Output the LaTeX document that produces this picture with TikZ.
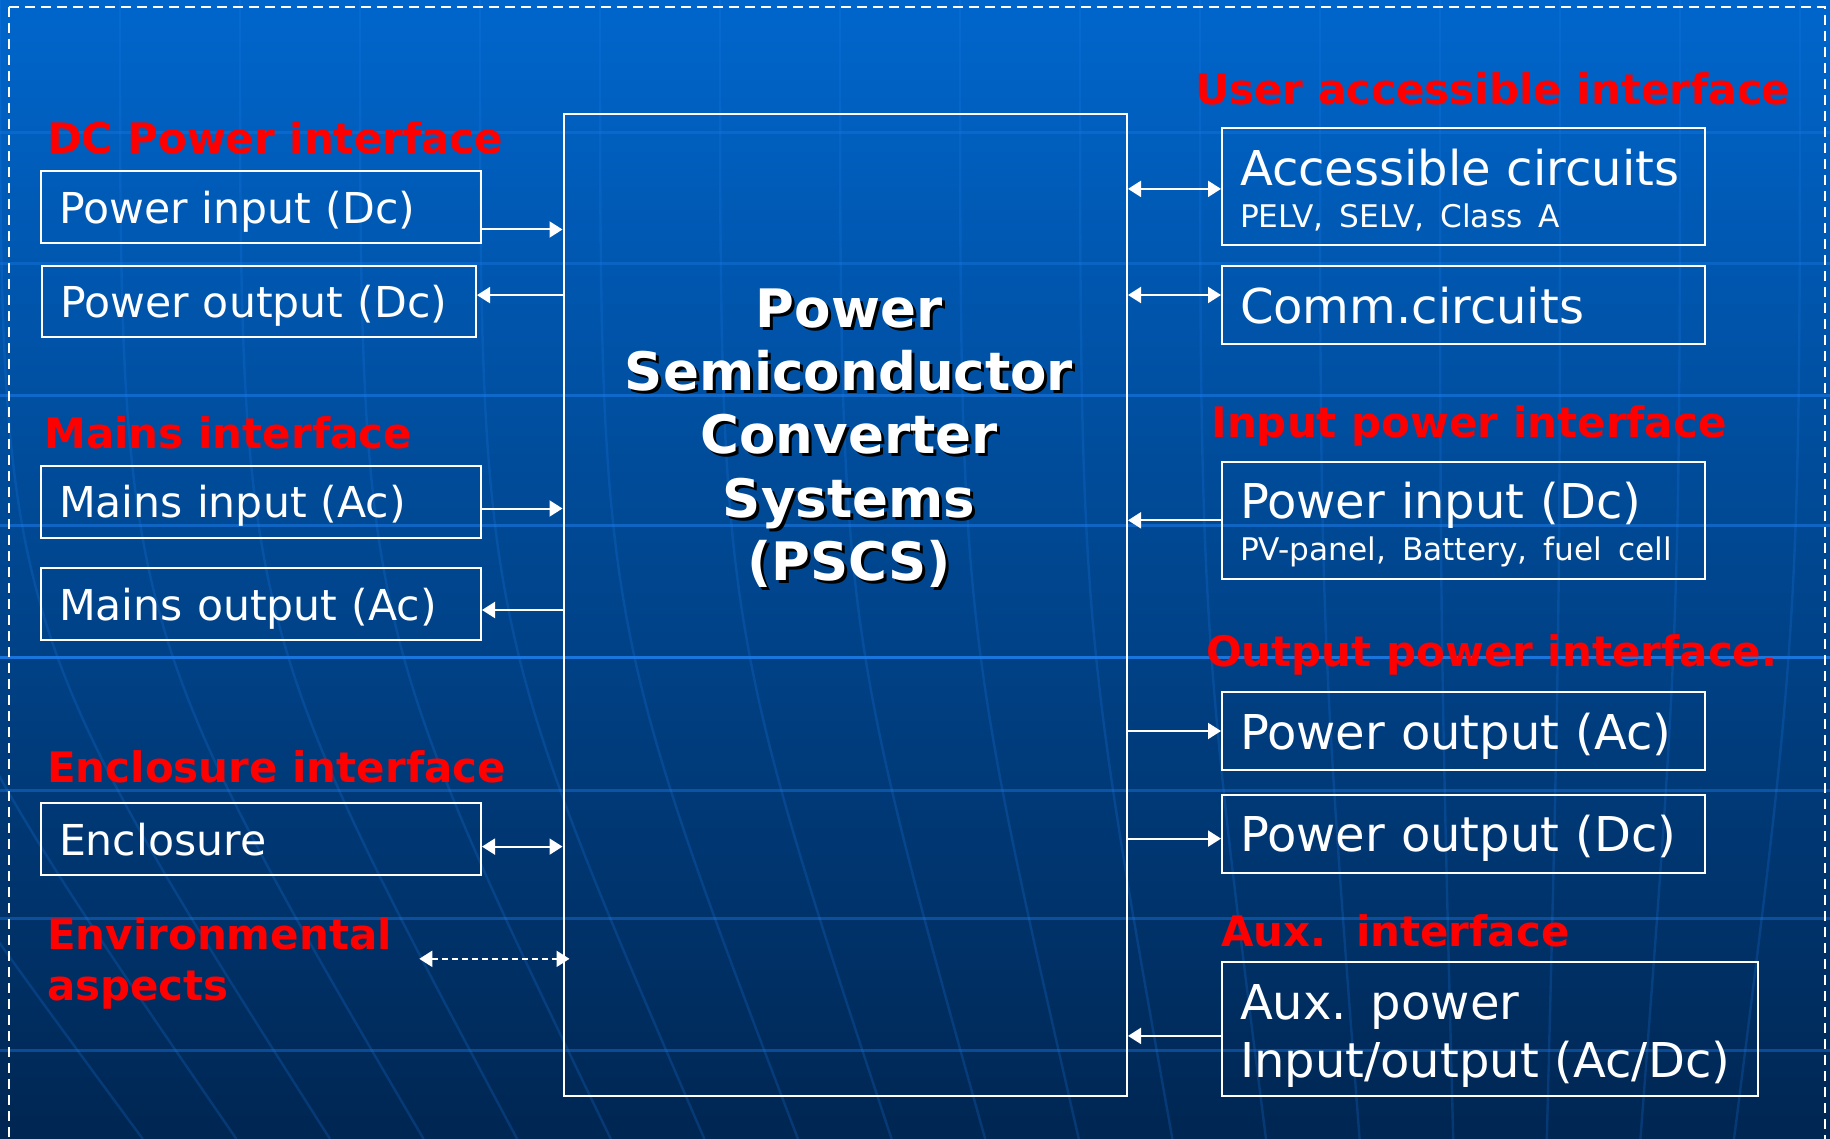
\documentclass[tikz,border=0pt]{standalone}
\usepackage{fontspec}
\setmainfont{DejaVu Sans}
\usetikzlibrary{arrows.meta}
\definecolor{bgtop}{RGB}{0,102,204}
\definecolor{bgmid}{RGB}{0,70,148}
\definecolor{bgbot}{RGB}{0,38,82}
\definecolor{gridblue}{RGB}{30,125,235}
\newcommand{\subtxtfont}{\fontsize{15.6}{20}\selectfont}

\begin{document}
\begin{tikzpicture}[x=0.5pt,y=-0.5pt,every node/.style={text=white},
    box/.style={draw=white, line width=1pt, anchor=north west, inner xsep=9pt, inner ysep=0pt, align=left, text depth=0pt},
    lbox/.style={box, text width=202pt, minimum height=36pt, font=\fontsize{21.3}{25}\selectfont},
    rbox/.style={box, text width=223.5pt, font=\fontsize{24}{29.3}\selectfont},
    hdr/.style={text=red, anchor=base west, inner sep=0pt, align=left, font=\fontsize{21}{25.5}\selectfont\bfseries},
    title/.style={anchor=north, inner sep=0pt, align=center, font=\fontsize{26.5}{31.7}\selectfont\bfseries},
    arr/.style={white, line width=1pt, -{Triangle[length=6.5pt,width=8pt]}},
    darr/.style={white, line width=1pt, {Triangle[length=6.5pt,width=8pt]}-{Triangle[length=6.5pt,width=8pt]}}]
    \useasboundingbox (0,0) rectangle (1830,1139);
    \clip (0,0) rectangle (1830,1139);
    % background with globe grid
    \shade[top color=bgtop, middle color=bgmid, bottom color=bgbot] (0,0) rectangle (1830,1139);
    \foreach \gy/\op in {133/0.3,264/0.35,395/0.55,525/0.55,657/0.85,790/0.4,918/0.4,1050/0.4}
        \draw[gridblue, line width=1.5pt, opacity=\op] (0,\gy) -- (1830,\gy);
    \foreach \xt in {-240,-120,...,1900} {
        \pgfmathsetmacro{\xb}{\xt+0.22*(1500-\xt)}
        \draw[gridblue, line width=1.2pt, opacity=0.22] (\xt,0) .. controls (\xt,620) .. (\xb,1139);
    }
    \draw[white, line width=0.6pt, dash pattern=on 5pt off 3pt] (9,7) rectangle (1825,1180);

    % central block
    \node[draw=white, line width=1pt, anchor=north west, inner sep=0pt, minimum width=281.75pt, minimum height=491pt] (sys) at (562.5,113) {};
    \node[title, text=black] (titleshadow) at (852,291) {Power\\Semiconductor\\Converter\\Systems\\(PSCS)};
    \node[title] (title) at (849,288) {Power\\Semiconductor\\Converter\\Systems\\(PSCS)};

    % left side
    \node[hdr] (hdc) at (46.7,154) {DC Power interface};
    \node[lbox] (dcin) at (40,170.5) {Power input (Dc)};
    \node[lbox, text width=199pt, minimum height=35.5pt] (dcout) at (41,265) {Power output (Dc)};
    \node[hdr] (hmains) at (44,448) {Mains interface};
    \node[lbox] (acin) at (40,464.5) {Mains input (Ac)};
    \node[lbox] (acout) at (40,567) {Mains output (Ac)};
    \node[hdr] (hencl) at (46.7,782) {Enclosure interface};
    \node[lbox] (encl) at (40,802) {Enclosure};
    \node[hdr, anchor=north west] (env) at (46.7,917.6) {Environmental\\aspects};

    % right side
    \node[hdr] (huser) at (1195,105) {User accessible interface};
    \node[rbox, minimum height=58.5pt, text depth=18.8pt] (acc) at (1221,127) {Accessible circuits\\[-8.5pt]{\subtxtfont PELV, SELV, Class A}};
    \node[rbox, minimum height=39pt] (comm) at (1221,265) {Comm.circuits};
    \node[hdr] (hin) at (1211,437) {Input power interface};
    \node[rbox, minimum height=58.3pt, text depth=19.6pt] (pvin) at (1221,461) {Power input (Dc)\\[-8.5pt]{\subtxtfont PV-panel, Battery, fuel cell}};
    \node[hdr] (hout) at (1205.6,666.7) {Output power interface.};
    \node[rbox, minimum height=39pt] (poac) at (1221,691) {Power output (Ac)};
    \node[rbox, minimum height=39pt] (podc) at (1221,793.6) {Power output (Dc)};
    \node[hdr] (haux) at (1221,946) {Aux.\ \ interface};
    \node[rbox, text width=249.75pt, minimum height=67pt, text depth=26.7pt] (aux) at (1221,960.5) {Aux. power\\Input/output (Ac/Dc)};

    % connections
    \draw[arr] ([yshift=-11pt]dcin.east) -- ([yshift=-11pt]dcin.east -| sys.west);
    \draw[arr] ([yshift=3.2pt]dcout.east -| sys.west) -- ([yshift=3.2pt]dcout.east);
    \draw[arr] ([yshift=-3.5pt]acin.east) -- ([yshift=-3.5pt]acin.east -| sys.west);
    \draw[arr] ([yshift=-3pt]acout.east -| sys.west) -- ([yshift=-3pt]acout.east);
    \draw[darr] ([yshift=-3.8pt]encl.east) -- ([yshift=-3.8pt]encl.east -| sys.west);
    \draw[darr, dash pattern=on 3pt off 2pt] ([xshift=13.5pt,yshift=2.5pt]env.east) -- ([xshift=3.5pt,yshift=2.5pt]env.east -| sys.west);
    \draw[darr] ([yshift=-1.2pt]acc.west -| sys.east) -- ([yshift=-1.2pt]acc.west);
    \draw[darr] ([yshift=5pt]comm.west -| sys.east) -- ([yshift=5pt]comm.west);
    \draw[arr] (pvin.west) -- (pvin.west -| sys.east);
    \draw[arr] (poac.west -| sys.east) -- (poac.west);
    \draw[arr] ([yshift=-2.5pt]podc.west -| sys.east) -- ([yshift=-2.5pt]podc.west);
    \draw[arr] ([yshift=-3.7pt]aux.west) -- ([yshift=-3.7pt]aux.west -| sys.east);
\end{tikzpicture}
\end{document}
